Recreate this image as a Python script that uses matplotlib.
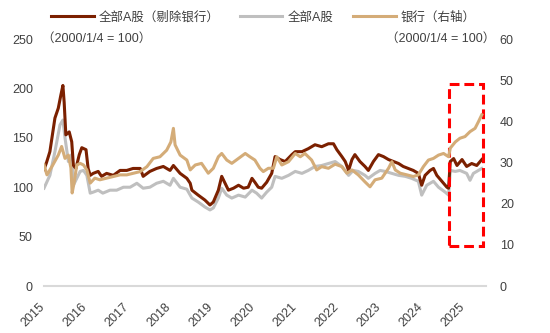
import matplotlib
matplotlib.use('Agg')
import matplotlib.pyplot as plt
from matplotlib.patches import Rectangle

plt.rcParams['font.family'] = ['Liberation Sans', 'Noto Sans CJK SC']

# 全部A股（剔除银行），左轴
x_exbank = [2015.00, 2015.06, 2015.14, 2015.26, 2015.34, 2015.40, 2015.45, 2015.48, 2015.52, 2015.60,
            2015.66, 2015.70, 2015.76, 2015.84, 2015.90, 2016.00, 2016.05, 2016.10, 2016.17, 2016.29,
            2016.37, 2016.49, 2016.65, 2016.81, 2016.97, 2017.12, 2017.29, 2017.36, 2017.52, 2017.68,
            2017.84, 2018.00, 2018.08, 2018.24, 2018.40, 2018.48, 2018.52, 2018.67, 2018.83, 2018.95,
            2019.03, 2019.15, 2019.23, 2019.31, 2019.39, 2019.51, 2019.63, 2019.75, 2019.86, 2019.95,
            2020.02, 2020.10, 2020.18, 2020.30, 2020.42, 2020.50, 2020.62, 2020.74, 2020.90, 2020.98,
            2021.14, 2021.29, 2021.45, 2021.61, 2021.77, 2021.89, 2021.97, 2022.09, 2022.17, 2022.25,
            2022.33, 2022.40, 2022.52, 2022.64, 2022.72, 2022.84, 2022.96, 2023.08, 2023.20, 2023.32,
            2023.44, 2023.55, 2023.67, 2023.79, 2023.91, 2023.99, 2024.07, 2024.19, 2024.27, 2024.35,
            2024.47, 2024.59, 2024.63, 2024.67, 2024.75, 2024.83, 2024.95, 2025.06, 2025.18, 2025.30,
            2025.42]
v_exbank = [118, 125, 136, 170, 180, 193, 203, 186, 153, 156,
            146, 122, 119, 133, 140, 138, 119, 112, 114, 116,
            111, 114, 112, 117, 117, 119, 119, 111, 116, 119,
            121, 117, 122, 114, 109, 104, 97, 92, 87, 82,
            85, 97, 111, 104, 97, 99, 102, 99, 100, 109,
            105, 100, 99, 105, 114, 131, 128, 126, 133, 136,
            136, 139, 143, 141, 144, 144, 138, 131, 126, 117,
            128, 133, 126, 121, 117, 126, 133, 131, 128, 126,
            124, 121, 119, 117, 114, 102, 112, 117, 119, 112,
            106, 100, 99, 126, 129, 122, 128, 121, 124, 122,
            128]

# 全部A股，左轴
x_all = [2015.00, 2015.14, 2015.26, 2015.38, 2015.45, 2015.50, 2015.58, 2015.66, 2015.70, 2015.78,
         2015.86, 2015.94, 2016.02, 2016.10, 2016.17, 2016.29, 2016.40, 2016.57, 2016.73, 2016.89,
         2017.05, 2017.21, 2017.36, 2017.52, 2017.68, 2017.84, 2018.00, 2018.08, 2018.24, 2018.40,
         2018.52, 2018.67, 2018.83, 2018.95, 2019.03, 2019.15, 2019.23, 2019.35, 2019.47, 2019.63,
         2019.79, 2019.95, 2020.06, 2020.18, 2020.30, 2020.42, 2020.50, 2020.66, 2020.82, 2020.98,
         2021.14, 2021.29, 2021.45, 2021.61, 2021.77, 2021.93, 2022.09, 2022.25, 2022.36, 2022.48,
         2022.64, 2022.72, 2022.88, 2023.00, 2023.12, 2023.28, 2023.44, 2023.60, 2023.75, 2023.91,
         2023.99, 2024.11, 2024.27, 2024.39, 2024.55, 2024.63, 2024.67, 2024.79, 2024.90, 2025.06,
         2025.14, 2025.22, 2025.34, 2025.42]
v_all = [99, 112, 136, 163, 168, 150, 126, 133, 102, 109,
         116, 117, 112, 94, 95, 97, 94, 97, 97, 100,
         100, 104, 99, 100, 104, 106, 102, 109, 100, 98,
         89, 85, 80, 77, 79, 89, 99, 92, 89, 92,
         90, 97, 94, 89, 95, 100, 111, 109, 112, 116,
         114, 117, 121, 122, 124, 126, 121, 112, 117, 116,
         112, 109, 114, 117, 116, 114, 112, 111, 109, 106,
         92, 102, 106, 100, 95, 92, 117, 116, 117, 114,
         107, 114, 117, 119]

# 银行（右轴）
x_bank = [2015.00, 2015.07, 2015.21, 2015.34, 2015.42, 2015.50, 2015.58, 2015.64, 2015.67, 2015.72,
          2015.78, 2015.86, 2015.94, 2016.02, 2016.10, 2016.21, 2016.33, 2016.49, 2016.65, 2016.81,
          2016.97, 2017.13, 2017.29, 2017.45, 2017.60, 2017.76, 2017.92, 2018.02, 2018.08, 2018.12,
          2018.24, 2018.40, 2018.48, 2018.60, 2018.75, 2018.91, 2019.03, 2019.15, 2019.23, 2019.35,
          2019.47, 2019.63, 2019.79, 2019.90, 2020.02, 2020.14, 2020.22, 2020.34, 2020.46, 2020.54,
          2020.66, 2020.82, 2020.98, 2021.10, 2021.21, 2021.37, 2021.49, 2021.61, 2021.77, 2021.93,
          2022.09, 2022.21, 2022.33, 2022.48, 2022.64, 2022.76, 2022.88, 2023.04, 2023.20, 2023.28,
          2023.36, 2023.48, 2023.64, 2023.79, 2023.91, 2024.03, 2024.15, 2024.27, 2024.39, 2024.51,
          2024.63, 2024.67, 2024.79, 2024.90, 2025.02, 2025.14, 2025.26, 2025.34, 2025.42]
v_bank = [29.5, 27.0, 29.4, 31.8, 33.9, 31.0, 31.8, 28.7, 22.6, 25.3,
          29.4, 29.8, 29.4, 28.2, 25.0, 26.2, 25.8, 26.2, 26.6, 27.0,
          27.0, 27.4, 27.8, 29.0, 31.0, 31.4, 33.0, 35.0, 38.3, 34.3,
          31.8, 30.6, 28.2, 29.4, 29.8, 27.4, 28.6, 31.4, 32.2, 30.6,
          29.8, 31.0, 32.2, 31.4, 30.6, 28.6, 27.8, 28.6, 28.6, 31.4,
          29.4, 30.2, 32.2, 31.4, 32.2, 30.6, 28.2, 29.0, 28.6, 29.6,
          29.0, 27.4, 28.2, 27.0, 25.3, 24.1, 25.8, 26.2, 28.6, 30.2,
          28.2, 27.4, 27.0, 26.6, 27.0, 29.0, 30.6, 31.0, 31.8, 32.2,
          31.4, 33.5, 35.0, 35.9, 36.3, 37.5, 38.3, 39.9, 41.6]

years = list(range(2015, 2026))
left_ticks = [0, 50, 100, 150, 200, 250]
right_ticks = [0, 10, 20, 30, 40, 50, 60]

c_exbank = '#7B2000'
c_all = '#BFBFBF'
c_bank = '#D4AC78'
txt = '#404040'

fig = plt.figure(figsize=(5.5, 3.33), dpi=100)
ax = fig.add_axes([0.08, 0.1411, 0.8036, 0.7417])
ax2 = ax.twinx()

l2, = ax.plot(x_all, v_all, color=c_all, lw=2.2, label='全部A股')
l1, = ax.plot(x_exbank, v_exbank, color=c_exbank, lw=2.2, label='全部A股（剔除银行）')
l3, = ax2.plot(x_bank, v_bank, color=c_bank, lw=2.2, label='银行（右轴）')

ax.set_xlim(2015.0, 2025.52)
ax.set_ylim(0, 250)
ax2.set_ylim(0, 60)
ax.set_yticks(left_ticks)
ax2.set_yticks(right_ticks)
ax.set_xticks([y + 0.08 for y in years])
ax.set_xticklabels([str(y) for y in years], rotation=45, ha='right')

for a in (ax, ax2):
    for s in a.spines.values():
        s.set_visible(False)
ax.spines['bottom'].set_visible(True)
ax.spines['bottom'].set_color('#D9D9D9')
ax.spines['bottom'].set_linewidth(1.5)

ax.tick_params(axis='x', length=0, pad=11, labelsize=9, colors=txt)
ax.tick_params(axis='y', length=0, pad=8, labelsize=9, colors=txt)
ax2.tick_params(axis='y', length=0, pad=10, labelsize=9, colors=txt)

# 红色虚线框
box = Rectangle((2024.64, 40), 0.82, 164, fill=False, edgecolor='#FF0000',
                linestyle=(0, (3.2, 1.6)), linewidth=2.2, zorder=5)
ax.add_patch(box)

fig.legend(handles=[l1, l2, l3], loc='center', bbox_to_anchor=(0.479, 0.948), ncol=3,
           frameon=False, fontsize=9, handlelength=3.4, handletextpad=0.4,
           columnspacing=1.6, labelcolor=txt)

fig.text(42 / 550, 1 - 39 / 333, '（2000/1/4 = 100）', ha='left', va='center', fontsize=9, color=txt)
fig.text(495 / 550, 1 - 39 / 333, '（2000/1/4 = 100）', ha='right', va='center', fontsize=9, color=txt)

fig.savefig('out.png', dpi=100)
